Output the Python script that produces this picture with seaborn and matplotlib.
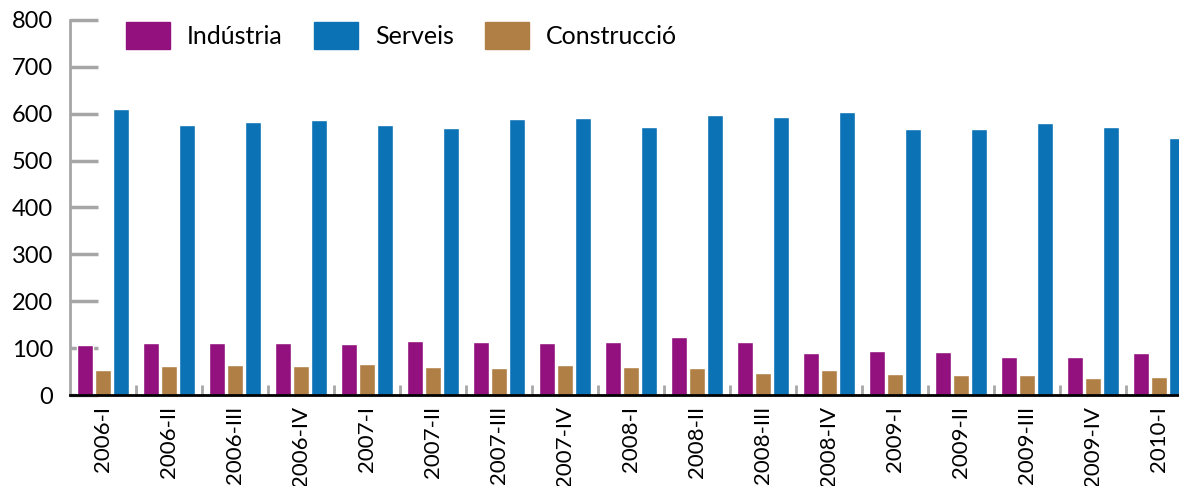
import pandas as pd
import matplotlib.pyplot as plt
import seaborn as sns
from matplotlib.patches import Patch

# quarters on the x axis
quarters = ['2006-I', '2006-II', '2006-III', '2006-IV', '2007-I', '2007-II', '2007-III', '2007-IV',
            '2008-I', '2008-II', '2008-III', '2008-IV', '2009-I', '2009-II', '2009-III', '2009-IV', '2010-I']

# values
industria = [106, 110, 112, 112, 108, 116, 114, 112, 114, 123, 114, 89, 93, 91, 82, 82, 89]
construccio = [53, 61, 63, 61, 67, 59, 57, 63, 59, 57, 48, 53, 44, 42, 42, 36, 38]
serveis = [610, 576, 582, 587, 576, 569, 588, 591, 572, 597, 593, 604, 567, 567, 580, 572, 548]

colors = {'Indústria': '#93117E', 'Construcció': '#B07F46', 'Serveis': '#0B72B5'}

# long format for seaborn
df = pd.DataFrame({
    'quarter': quarters * 3,
    'sector': ['Indústria'] * 17 + ['Construcció'] * 17 + ['Serveis'] * 17,
    'value': industria + construccio + serveis,
})

sns.set_style('white')
plt.rcParams['font.family'] = ['Lato', 'DejaVu Sans']
plt.rcParams['text.color'] = 'black'

fig = plt.figure(figsize=(11.79, 4.86), dpi=100)
ax = fig.add_axes([70 / 1179, 1 - 395 / 486, 1122 / 1179, 375 / 486])

sns.barplot(data=df, x='quarter', y='value', hue='sector', order=quarters,
            hue_order=['Indústria', 'Construcció', 'Serveis'], palette=colors,
            width=0.8, gap=0.08, saturation=1, legend=False, ax=ax)

ax.set_ylim(0, 800)
ax.set_xlim(-0.5, 16.5)
ax.set_xlabel('')
ax.set_ylabel('')
ax.set_yticks(range(0, 801, 100))

# spines: grey left, black bottom
for s in ['top', 'right']:
    ax.spines[s].set_visible(False)
ax.spines['left'].set_color('#a6a6a6')
ax.spines['left'].set_linewidth(2)
ax.spines['bottom'].set_color('black')
ax.spines['bottom'].set_linewidth(2)
ax.spines['bottom'].set_zorder(5)

ax.tick_params(axis='y', left=True, direction='in', length=20, width=2.5, color='#a6a6a6',
               labelsize=17, pad=12, labelcolor='black')
ax.tick_params(axis='x', which='major', bottom=True, length=0, labelsize=16, pad=8,
               labelrotation=90, labelcolor='black')
ax.set_xticks([i + 0.5 for i in range(16)], minor=True)
ax.tick_params(axis='x', which='minor', bottom=True, direction='in', length=7, width=2,
               color='#a6a6a6')
for lbl in ax.get_xticklabels():
    lbl.set_verticalalignment('top')

# legend in Indústria, Serveis, Construcció order
handles = [Patch(color=colors[k]) for k in ['Indústria', 'Serveis', 'Construcció']]
fig.legend(handles, ['Indústria', 'Serveis', 'Construcció'], ncol=3, frameon=False,
           loc='upper left', bbox_to_anchor=(126 / 1179, 1 - 22 / 486), fontsize=18,
           borderpad=0, borderaxespad=0, labelcolor='black',
           handlelength=1.76, handleheight=1.28, handletextpad=0.68, columnspacing=1.25)

plt.savefig('out.png', dpi=100)
plt.close()
